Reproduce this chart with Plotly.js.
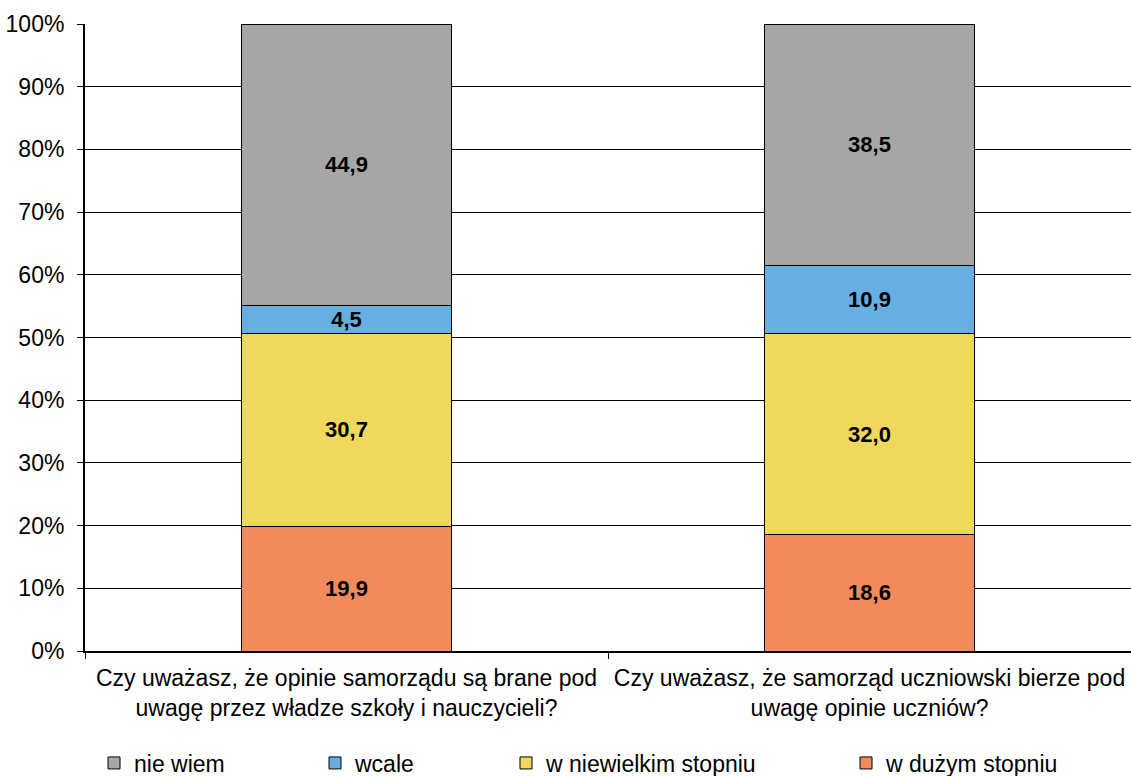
<!DOCTYPE html>
<html>
<head>
<meta charset="utf-8">
<script src="https://cdn.plot.ly/plotly-3.0.1.min.js"></script>
<style>html,body{margin:0;padding:0;background:#fff;}#chart{width:1131px;height:776px;}</style>
</head>
<body>
<div id="chart"></div>
<script>
const categories = [
  "Czy uważasz, że opinie samorządu są brane pod<br>uwagę przez władze szkoły i nauczycieli?",
  "Czy uważasz, że samorząd uczniowski bierze pod<br>uwagę opinie uczniów?"
];
const seriesNames = ["w dużym stopniu", "w niewielkim stopniu", "wcale", "nie wiem"];
const wDuzymStopniu = [19.9, 18.6];
const wNiewielkimStopniu = [30.7, 32.0];
const wcale = [4.5, 10.9];
const nieWiem = [44.9, 38.5];
const yTickVals = [0, 10, 20, 30, 40, 50, 60, 70, 80, 90, 100];
const yTickText = ["0%", "10%", "20%", "30%", "40%", "50%", "60%", "70%", "80%", "90%", "100%"];

const seriesValues = [wDuzymStopniu, wNiewielkimStopniu, wcale, nieWiem];
const colors = ["#F28B5B", "#F0D85C", "#67AEE3", "#A6A6A6"];
const legendIds = ["legend4", "legend3", "legend2", "legend"];
const legendX = [846, 506, 315, 94];

const FONT = "Liberation Sans, Arial, sans-serif";
const FS = 23;

const traces = seriesValues.map((vals, i) => ({
  type: "bar",
  name: seriesNames[i],
  x: categories,
  y: vals,
  marker: {color: colors[i], line: {color: "#000", width: 1}},
  texttemplate: "<b>%{y:.1f}</b>",
  textposition: "inside",
  insidetextanchor: "middle",
  constraintext: "none",
  textfont: {family: FONT, size: 22, color: "#000"},
  hoverinfo: "skip",
  legend: legendIds[i]
}));

const layout = {
  width: 1131, height: 776,
  margin: {l: 85, r: 0, t: 24, b: 125},
  paper_bgcolor: "#fff", plot_bgcolor: "#fff",
  separators: ", ",
  barmode: "stack",
  bargap: 0.6,
  font: {family: FONT, size: FS, color: "#000"},
  showlegend: true,
  xaxis: {
    type: "category",
    showline: true, linecolor: "#000", linewidth: 2,
    ticks: "outside", tickson: "boundaries", ticklen: 6, tickcolor: "#000", tickwidth: 1,
    ticklabelstandoff: 5,
    showgrid: false,
    tickfont: {family: FONT, size: FS, color: "#000"}
  },
  yaxis: {
    range: [0, 100],
    tickmode: "array",
    tickvals: yTickVals,
    ticktext: yTickText,
    showline: true, linecolor: "#000", linewidth: 2,
    ticks: "outside", ticklen: 6, tickcolor: "#000", tickwidth: 1,
    ticklabelstandoff: 8,
    showgrid: true, gridcolor: "#000", gridwidth: 1,
    zeroline: false,
    tickfont: {family: FONT, size: FS, color: "#000"}
  }
};
legendIds.forEach((id, i) => {
  layout[id] = {
    xref: "container", yref: "container",
    x: legendX[i] / 1131, y: 1 - 763 / 776,
    xanchor: "left", yanchor: "middle",
    orientation: "h",
    bgcolor: "rgba(0,0,0,0)",
    font: {family: FONT, size: FS, color: "#000"}
  };
});

Plotly.newPlot("chart", traces, layout, {displayModeBar: false, staticPlot: true});
</script>
</body>
</html>
